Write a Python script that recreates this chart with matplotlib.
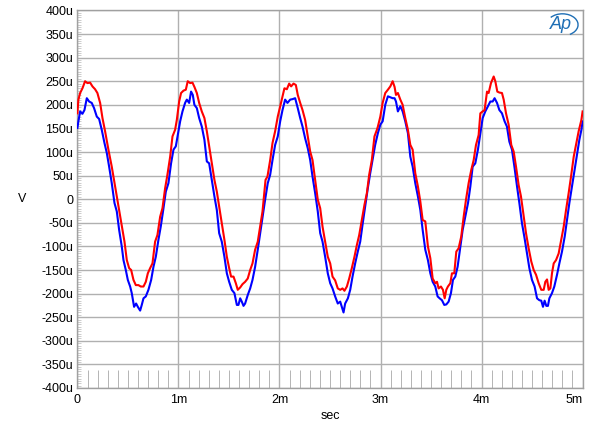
import numpy as np
import matplotlib
matplotlib.use("Agg")
import matplotlib.pyplot as plt
from matplotlib.ticker import FixedLocator, MultipleLocator, FuncFormatter
from matplotlib.patches import Arc

plt.rcParams['font.family'] = ['Liberation Sans', 'DejaVu Sans']

# time in ms, level in microvolts
red_t = [0.0, 0.010, 0.027, 0.050, 0.076, 0.099, 0.126, 0.149, 0.175, 0.198,
         0.225, 0.248, 0.274, 0.307, 0.340, 0.373, 0.406, 0.439, 0.466, 0.489,
         0.512, 0.532, 0.555, 0.578, 0.604, 0.627, 0.654, 0.677, 0.697, 0.720,
         0.743, 0.769, 0.792, 0.819, 0.842, 0.868, 0.891, 0.918, 0.941, 0.967,
         0.984, 1.007, 1.026, 1.050, 1.073, 1.092, 1.116, 1.139, 1.158, 1.182,
         1.205, 1.231, 1.257, 1.281, 1.304, 1.330, 1.356, 1.380, 1.403, 1.429,
         1.455, 1.479, 1.502, 1.521, 1.545, 1.568, 1.587, 1.611, 1.634, 1.660,
         1.686, 1.710, 1.733, 1.759, 1.785, 1.809, 1.832, 1.850, 1.862, 1.881,
         1.908, 1.931, 1.957,
         1.983, 2.007, 2.030, 2.049, 2.073, 2.096, 2.115, 2.139, 2.162, 2.181,
         2.205, 2.228, 2.254, 2.280, 2.304, 2.327, 2.353, 2.379, 2.403, 2.426,
         2.452, 2.478, 2.502, 2.525, 2.551, 2.577, 2.601, 2.624, 2.643, 2.667,
         2.690, 2.716, 2.742, 2.766, 2.789, 2.815, 2.841, 2.865, 2.888, 2.914,
         2.940, 2.964,
         2.974, 2.998, 3.021, 3.047, 3.073, 3.097, 3.120, 3.139, 3.153, 3.172,
         3.196, 3.219, 3.245, 3.271, 3.295, 3.318, 3.344, 3.370, 3.394, 3.417,
         3.443, 3.469, 3.493, 3.516, 3.542, 3.559, 3.575, 3.598, 3.618, 3.635,
         3.651, 3.667, 3.691, 3.707, 3.730, 3.750, 3.773, 3.799, 3.823, 3.846,
         3.872, 3.898, 3.922, 3.945, 3.971,
         3.988, 4.011, 4.030, 4.054, 4.070, 4.093, 4.120, 4.136, 4.156, 4.176,
         4.202, 4.219, 4.242, 4.268, 4.294, 4.318, 4.341, 4.367, 4.390, 4.417,
         4.440, 4.466, 4.492, 4.516, 4.539, 4.565, 4.591, 4.615, 4.631, 4.648,
         4.664, 4.681, 4.697, 4.714, 4.737, 4.763, 4.789, 4.813, 4.836, 4.862,
         4.888, 4.912, 4.935, 4.961, 4.988, 5.0]
red_v = [182, 211, 225, 235, 250, 246, 247, 239, 233, 225,
         204, 172, 144, 105, 69, 27, -16, -58, -90, -129,
         -146, -150, -171, -182, -182, -185, -185, -175, -157, -146,
         -136, -90, -76, -37, -19, 23, 52, 90, 133, 147,
         168, 207, 225, 230, 232, 250, 246, 247, 238, 225,
         204, 186, 172, 144, 112, 76, 41, 16, -16, -51,
         -86, -122, -146, -164, -164, -178, -192, -187, -180, -175,
         -168, -150, -136, -107, -90, -58, -26, 13, 41, 48,
         83, 119, 144,
         175, 197, 218, 235, 233, 245, 239, 245, 242, 221,
         204, 189, 168, 133, 101, 83, 41, -1, -19, -58,
         -90, -122, -136, -164, -172, -189, -192, -189, -194, -185,
         -168, -146, -122, -97, -76, -44, -12, 13, 52, 83,
         133, 147,
         154, 175, 204, 225, 232, 239, 250, 238, 221, 225,
         211, 200, 172, 147, 115, 105, 55, 27, -5, -44,
         -47, -100, -125, -168, -178, -175, -189, -185, -192, -210,
         -192, -185, -178, -157, -157, -111, -104, -79, -37, -1,
         34, 62, 83, 115, 136,
         182, 186, 189, 228, 225, 246, 260, 250, 228, 226,
         225, 211, 182, 158, 115, 101, 69, 30, 6, -37,
         -72, -104, -132, -150, -160, -178, -192, -192, -175, -170,
         -192, -189, -157, -136, -129, -115, -86, -58, -23, 13,
         52, 90, 115, 144, 168, 186]

blue_t = [0.0, 0.010, 0.027, 0.050, 0.070, 0.093, 0.116, 0.142, 0.165, 0.192,
          0.215, 0.241, 0.268, 0.291, 0.314, 0.340, 0.367, 0.390, 0.413, 0.439,
          0.456, 0.479, 0.499, 0.522, 0.538, 0.561, 0.581, 0.598, 0.621, 0.637,
          0.654, 0.677, 0.703, 0.730, 0.753, 0.776, 0.802, 0.825, 0.852, 0.875,
          0.901, 0.927, 0.951,
          0.974, 0.993, 1.017, 1.040, 1.066, 1.083, 1.106, 1.125, 1.142, 1.158,
          1.182, 1.205, 1.231, 1.257, 1.281, 1.304, 1.330, 1.356, 1.380, 1.403,
          1.429, 1.455, 1.479, 1.502, 1.528, 1.554, 1.578, 1.594, 1.611, 1.627,
          1.644, 1.660, 1.686, 1.710, 1.733, 1.759, 1.785, 1.809, 1.832, 1.858,
          1.884, 1.908, 1.931, 1.957,
          1.983, 2.007, 2.030, 2.056, 2.079, 2.106, 2.129, 2.155, 2.181, 2.205,
          2.228, 2.254, 2.280, 2.304, 2.327, 2.353, 2.379, 2.403, 2.426, 2.452,
          2.478, 2.502, 2.525, 2.551, 2.577, 2.601, 2.617, 2.634, 2.650, 2.677,
          2.700, 2.723, 2.749, 2.775, 2.799, 2.822, 2.848, 2.874, 2.898, 2.921,
          2.947,
          2.974, 2.998, 3.021, 3.047, 3.073, 3.097, 3.120, 3.139, 3.153, 3.172,
          3.196, 3.219, 3.245, 3.271, 3.295, 3.318, 3.344, 3.370, 3.394, 3.417,
          3.443, 3.469, 3.493, 3.516, 3.542, 3.565, 3.585, 3.608, 3.631, 3.651,
          3.674, 3.697, 3.717, 3.740, 3.763, 3.790, 3.813, 3.839, 3.866, 3.889,
          3.912, 3.938,
          3.964, 3.988, 4.011, 4.037, 4.063, 4.087, 4.110, 4.129, 4.153, 4.176,
          4.202, 4.228, 4.251, 4.275, 4.301, 4.327, 4.351, 4.374, 4.400, 4.426,
          4.450, 4.473, 4.499, 4.525, 4.549, 4.572, 4.591, 4.608, 4.624, 4.641,
          4.657, 4.671, 4.697, 4.720, 4.747, 4.770, 4.796, 4.823, 4.846, 4.869,
          4.895, 4.922, 4.945, 4.968, 4.988, 5.0]
blue_v = [151, 165, 186, 181, 189, 214, 207, 204, 193, 175,
          170, 147, 119, 98, 69, 34, -8, -26, -65, -100,
          -129, -150, -171, -185, -199, -228, -221, -228, -236, -224,
          -210, -206, -192, -171, -143, -122, -86, -58, -19, 16,
          34, 76, 105,
          112, 136, 165, 186, 204, 211, 204, 228, 221, 200,
          193, 172, 154, 126, 80, 76, 41, 6, -23, -72,
          -90, -122, -157, -175, -192, -199, -224, -224, -210, -217,
          -226, -221, -203, -189, -171, -143, -107, -72, -37, -1,
          34, 52, 83, 115,
          133, 165, 189, 211, 204, 211, 212, 214, 193, 172,
          154, 129, 108, 83, 48, 13, -26, -72, -90, -122,
          -157, -178, -189, -206, -221, -217, -228, -240, -221, -210,
          -192, -164, -136, -111, -90, -54, -16, 23, 55, 83,
          115,
          140, 158, 165, 200, 218, 216, 214, 214, 207, 186,
          197, 186, 165, 140, 90, 69, 34, 6, -23, -65,
          -107, -129, -157, -175, -185, -206, -210, -214, -224, -223,
          -217, -199, -171, -164, -143, -100, -65, -37, -8, 27,
          69, 76,
          105, 140, 172, 186, 197, 207, 207, 214, 204, 189,
          182, 165, 154, 122, 105, 66, 27, -8, -51, -83,
          -115, -146, -171, -185, -210, -214, -215, -228, -215, -226,
          -226, -210, -199, -185, -160, -136, -111, -79, -44, -8,
          27, 62, 94, 126, 147, 165]

y_ticks = list(range(-400, 401, 50))
x_ticks = [0, 1, 2, 3, 4, 5]

fig = plt.figure(figsize=(6, 4.34), dpi=100)
ax = fig.add_axes([0.129, 0.106, 0.842, 0.870])

ax.plot(blue_t, blue_v, color='#0000ff', lw=1.5, zorder=3)
ax.plot(red_t, red_v, color='#ff0000', lw=1.5, zorder=4)

ax.set_xlim(0, 5)
ax.set_ylim(-400, 400)

ax.yaxis.set_major_locator(FixedLocator(y_ticks))
ax.xaxis.set_major_locator(FixedLocator(x_ticks))
ax.yaxis.set_major_formatter(FuncFormatter(lambda v, p: "0" if v == 0 else f"{int(v)}u"))
ax.xaxis.set_major_formatter(FuncFormatter(lambda v, p: "0" if v == 0 else f"{int(v)}m"))
ax.xaxis.set_minor_locator(MultipleLocator(0.1))
ax.yaxis.set_minor_locator(MultipleLocator(5))

ax.grid(True, which='major', color='#b0b0b0', lw=1.0)
ax.tick_params(which='major', length=0, labelsize=9, pad=3)
ax.tick_params(axis='x', which='minor', direction='in', length=13, width=0.6, color='#a8a8a8')
ax.tick_params(axis='y', which='minor', direction='in', length=3, width=0.5, color='#b8b8b8')
ax.tick_params(axis='x', which='major', pad=4)

for s in ax.spines.values():
    s.set_color('#a0a0a0')
    s.set_linewidth(1.0)

labels = ax.get_xticklabels()
labels[-1].set_horizontalalignment('right')

ax.set_xlabel("sec", fontsize=9, labelpad=3)
ax.set_ylabel("V", fontsize=9, rotation=0, labelpad=14, va='center')

# Ap logo
ax.text(0.958, 0.962, "Ap", transform=ax.transAxes, fontsize=13, style='italic',
        color='#1f6fb5', ha='center', va='center', zorder=6)
ax.add_patch(Arc((0.960, 0.962), 0.062, 0.058, angle=0, theta1=-60, theta2=140,
                 transform=ax.transAxes, color='#1f6fb5', lw=1.0, zorder=6))

fig.savefig("out.png", dpi=100)
